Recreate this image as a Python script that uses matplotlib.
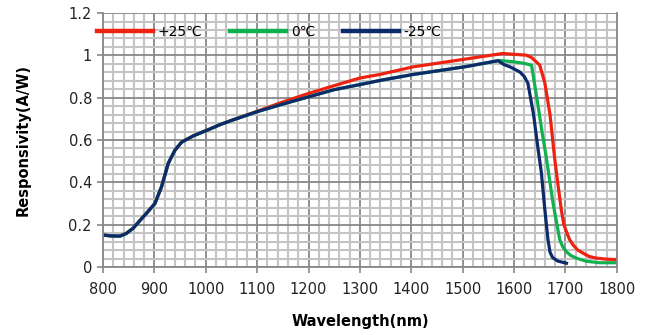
import matplotlib
matplotlib.use("Agg")
import matplotlib.pyplot as plt
from matplotlib.ticker import MultipleLocator

# Data (wavelength nm, responsivity A/W)
wl_blue = [800, 815, 833, 845, 859, 872, 885, 901, 914, 927, 940, 953, 976, 1008, 1027, 1047,
           1100, 1150, 1200, 1250, 1300, 1340, 1404, 1504, 1569, 1580, 1592, 1611, 1620, 1627,
           1638, 1647, 1653, 1660, 1666, 1670, 1675, 1685, 1702]
r_blue = [0.151, 0.147, 0.146, 0.158, 0.184, 0.22, 0.255, 0.30, 0.38, 0.49, 0.552, 0.59, 0.62, 0.652, 0.672, 0.69,
          0.734, 0.77, 0.804, 0.838, 0.862, 0.882, 0.910, 0.946, 0.975, 0.957, 0.946, 0.922, 0.90, 0.868,
          0.72, 0.553, 0.45, 0.27, 0.13, 0.07, 0.045, 0.028, 0.018]

wl_red = [800, 815, 833, 845, 859, 872, 885, 901, 914, 927, 940, 953, 976, 1008, 1027, 1047,
          1100, 1150, 1200, 1250, 1300, 1339, 1404, 1504, 1578, 1600, 1624, 1634, 1643, 1650,
          1660, 1670, 1679, 1686, 1692, 1697, 1702, 1708, 1715, 1724, 1734, 1746, 1760, 1780, 1800]
r_red = [0.151, 0.147, 0.146, 0.158, 0.184, 0.22, 0.255, 0.30, 0.38, 0.49, 0.552, 0.59, 0.62, 0.652, 0.672, 0.69,
         0.736, 0.78, 0.82, 0.857, 0.893, 0.91, 0.946, 0.982, 1.009, 1.005, 1.001, 0.99, 0.97, 0.954,
         0.869, 0.72, 0.515, 0.38, 0.27, 0.20, 0.167, 0.13, 0.104, 0.08, 0.066, 0.05, 0.042, 0.037, 0.035]

wl_green = [800, 815, 833, 845, 859, 872, 885, 901, 914, 927, 940, 953, 976, 1008, 1027, 1047,
            1100, 1150, 1200, 1250, 1300, 1340, 1404, 1504, 1572, 1598, 1618, 1634, 1645, 1655,
            1662, 1676, 1689, 1695, 1702, 1710, 1721, 1741, 1767, 1800]
r_green = [0.151, 0.147, 0.146, 0.158, 0.184, 0.22, 0.255, 0.30, 0.38, 0.49, 0.552, 0.59, 0.62, 0.652, 0.672, 0.69,
           0.734, 0.77, 0.804, 0.838, 0.862, 0.882, 0.910, 0.946, 0.976, 0.97, 0.963, 0.954, 0.79, 0.63,
           0.53, 0.30, 0.128, 0.095, 0.072, 0.055, 0.042, 0.027, 0.02, 0.02]

labels = ["+25\u2103", "0\u2103", "-25\u2103"]
colors = ["#ee2211", "#11b050", "#0d2a6b"]

fig = plt.figure(figsize=(6.52, 3.35), dpi=100)
ax = fig.add_axes([0.158, 0.203, 0.788, 0.758])

ax.plot(wl_red, r_red, color=colors[0], lw=2.3, label=labels[0], solid_joinstyle="round")
ax.plot(wl_green, r_green, color=colors[1], lw=2.3, label=labels[1], solid_joinstyle="round")
ax.plot(wl_blue, r_blue, color=colors[2], lw=2.3, label=labels[2], solid_joinstyle="round")

ax.set_xlim(800, 1800)
ax.set_ylim(0, 1.2)
ax.xaxis.set_major_locator(MultipleLocator(100))
ax.xaxis.set_minor_locator(MultipleLocator(20))
ax.yaxis.set_minor_locator(MultipleLocator(0.04))
ax.set_yticks([0, 0.2, 0.4, 0.6, 0.8, 1.0, 1.2])
ax.set_yticklabels(["0", "0.2", "0.4", "0.6", "0.8", "1", "1.2"])

ax.grid(which="minor", color="#c4c4c4", lw=1.5)
ax.grid(which="major", color="#888888", lw=1.3)
ax.set_axisbelow(True)

ax.spines["top"].set_visible(False)
for s in ["left", "bottom", "right"]:
    ax.spines[s].set_color("#888888")
    ax.spines[s].set_linewidth(1.3)

ax.tick_params(which="major", direction="out", length=4, color="#888888", width=1.2,
               labelsize=10.5, labelcolor="#222222", pad=4)
ax.tick_params(which="minor", length=0)
ax.tick_params(axis="x", pad=7)

ax.set_xlabel("Wavelength(nm)", fontsize=10.5, fontweight="bold", labelpad=12)
ax.set_ylabel("Responsivity(A/W)", fontsize=10.5, fontweight="bold", labelpad=27)

leg = ax.legend(loc="upper left", bbox_to_anchor=(-0.03, 0.99), ncol=3, frameon=False,
                handlelength=4.0, handletextpad=0.36, columnspacing=2.0, fontsize=10,
                borderaxespad=0.3)
for line in leg.get_lines():
    line.set_linewidth(3.2)

fig.savefig("out.png", dpi=100)
